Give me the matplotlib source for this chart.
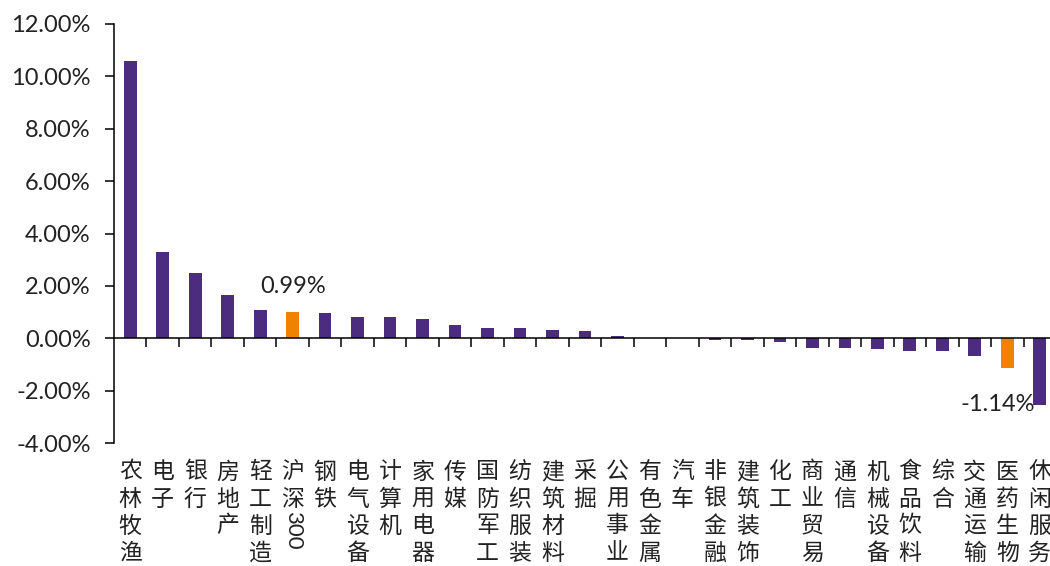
import matplotlib
matplotlib.use('Agg')
import matplotlib.pyplot as plt
from matplotlib.ticker import FormatStrFormatter, FixedLocator

# 行业涨跌幅 (%)
industries = ['农林牧渔', '电子', '银行', '房地产', '轻工制造', '沪深300', '钢铁',
              '电气设备', '计算机', '家用电器', '传媒', '国防军工', '纺织服装',
              '建筑材料', '采掘', '公用事业', '有色金属', '汽车', '非银金融',
              '建筑装饰', '化工', '商业贸易', '通信', '机械设备', '食品饮料',
              '综合', '交通运输', '医药生物', '休闲服务']
returns = [10.59, 3.29, 2.51, 1.67, 1.09, 0.99, 0.95,
           0.80, 0.80, 0.75, 0.49, 0.40, 0.40,
           0.30, 0.27, 0.08, 0.00, 0.00, -0.08,
           -0.08, -0.13, -0.38, -0.38, -0.42, -0.47,
           -0.47, -0.67, -1.14, -2.56]
highlight = ['沪深300', '医药生物']

PURPLE = '#4b2c7f'
ORANGE = '#f08200'

fig = plt.figure(figsize=(10.5, 5.66), dpi=100)
W, H = 1050, 566
# 右侧略超出画布
ax = fig.add_axes([114 / W, 1 - 443 / H, (1056 - 114) / W, (443 - 24) / H])

x = list(range(len(industries)))
colors = [ORANGE if n in highlight else PURPLE for n in industries]
ax.bar(x, returns, width=0.39, color=colors, zorder=2)

ax.set_xlim(-0.5, len(industries) - 0.5)
ax.set_ylim(-4, 12)
ax.set_yticks([-4, -2, 0, 2, 4, 6, 8, 10, 12])
ax.yaxis.set_major_formatter(FormatStrFormatter('%.2f%%'))
for lab in ax.get_yticklabels():
    lab.set_fontfamily('Lato')
    lab.set_fontsize(17)
    lab.set_color('#222222')
ax.tick_params(axis='y', direction='out', length=6.7, width=1.1, pad=10, color='black')

# 坐标轴
ax.spines['top'].set_visible(False)
ax.spines['right'].set_visible(False)
ax.spines['bottom'].set_position(('data', 0))
ax.spines['bottom'].set_linewidth(1.1)
ax.spines['left'].set_linewidth(1.1)
ax.xaxis.set_major_locator(FixedLocator([i + 0.5 for i in range(len(industries))]))
ax.tick_params(axis='x', direction='out', length=6.5, width=1.1, labelbottom=False)

# 竖排类别标签
y0 = 443
first = 472
step = 27
for i, name in enumerate(industries):
    k = 0
    j = 0
    while j < len(name):
        ch = name[j]
        if ch.isdigit():
            num = ''
            while j < len(name) and name[j].isdigit():
                num += name[j]
                j += 1
            ax.annotate(num, xy=(i, 0), xycoords=('data', 'axes fraction'),
                        xytext=(0, -(first - y0) - k * step + step / 2 - 18),
                        textcoords='offset pixels',
                        ha='center', va='center', rotation=-90,
                        fontsize=16, family=['Lato', 'DejaVu Sans'], color='#222222')
            continue
        ax.annotate(ch, xy=(i, 0), xycoords=('data', 'axes fraction'),
                    xytext=(0, -(first - y0) - k * step), textcoords='offset pixels',
                    ha='center', va='center', fontsize=16.5,
                    family=['Noto Sans CJK SC', 'DejaVu Sans'], color='#222222')
        k += 1
        j += 1

# 数据标签
i_hs = industries.index('沪深300')
ax.annotate('%.2f%%' % returns[i_hs], xy=(i_hs, returns[i_hs]), xytext=(0, 26),
            textcoords='offset pixels', ha='center', va='center',
            fontsize=17, family='Lato', color='#222222')
i_yy = industries.index('医药生物')
ax.annotate('%.2f%%' % returns[i_yy], xy=(i_yy, returns[i_yy]), xytext=(-10, -36),
            textcoords='offset pixels', ha='center', va='center',
            fontsize=17, family='Lato', color='#222222')

fig.savefig('out.png', dpi=100)
